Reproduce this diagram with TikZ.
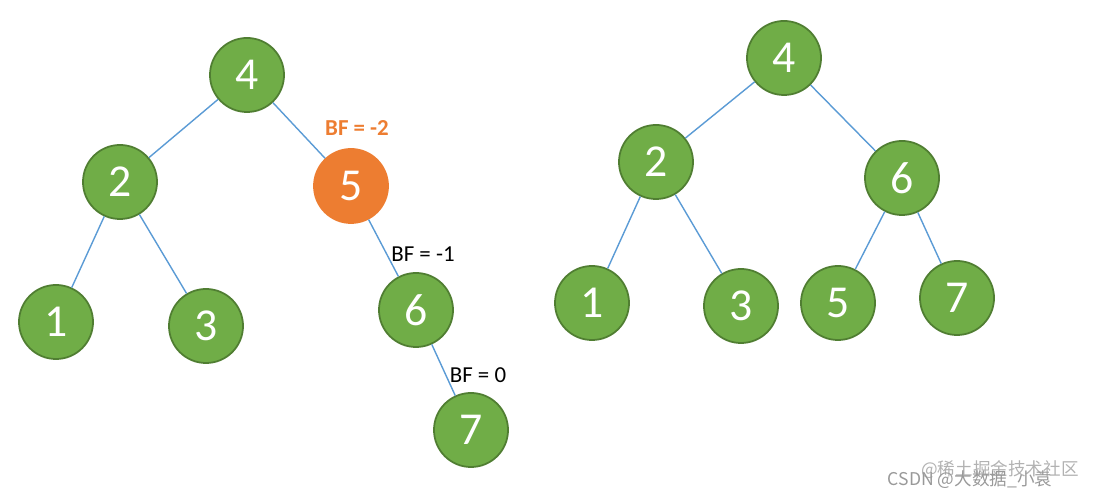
\documentclass[tikz,border=0pt]{standalone}
\usepackage{fontspec}
\setmainfont{Carlito}
\newfontfamily\cjk{Noto Sans CJK SC}
\definecolor{gfill}{HTML}{70AD47}
\definecolor{gdraw}{HTML}{507E32}
\definecolor{ofill}{HTML}{ED7D31}
\definecolor{edge}{HTML}{5B9BD5}
\begin{document}
\begin{tikzpicture}[x=0.01cm,y=-0.01cm,
  n/.style={circle,minimum size=0.74cm,inner sep=0pt,fill=gfill,draw=gdraw,line width=0.5pt,text=white,font=\fontsize{13}{13}\selectfont},
  o/.style={n,fill=ofill,draw=ofill},
  e/.style={draw=edge,line width=0.4pt},
  bf/.style={font=\fontsize{6.5}{7}\selectfont}]
\useasboundingbox (0,0) rectangle (1094,498);
\node[n] (a4) at (247,75) {4};
\node[n] (a2) at (120,182) {2};
\node[o] (a5) at (351,186) {5};
\node[n] (a1) at (56,322) {1};
\node[n] (a3) at (206,326) {3};
\node[n] (a6) at (416,310) {6};
\node[n] (a7) at (471,430) {7};
\draw[e] (a4)--(a2); \draw[e] (a4)--(a5); \draw[e] (a2)--(a1); \draw[e] (a2)--(a3);
\draw[e] (a5)--(a6); \draw[e] (a6)--(a7);
\node[bf,text=ofill,font=\fontsize{6.5}{7}\selectfont\bfseries] (l1) at (357,128) {BF = -2};
\node[bf] (l2) at (423,254) {BF = -1};
\node[bf] (l3) at (478,375) {BF = 0};
\node[n] (b4) at (784,58) {4};
\node[n] (b2) at (656,162) {2};
\node[n] (b6) at (902,178) {6};
\node[n] (b1) at (592,303) {1};
\node[n] (b3) at (741,306) {3};
\node[n] (b5) at (838,303) {5};
\node[n] (b7) at (957,298) {7};
\draw[e] (b4)--(b2); \draw[e] (b4)--(b6); \draw[e] (b2)--(b1); \draw[e] (b2)--(b3);
\draw[e] (b6)--(b5); \draw[e] (b6)--(b7);
\node[text=gray!60,font=\cjk\fontsize{5}{6}\selectfont] (w1) at (1000,470) {@稀土掘金技术社区};
\node[text=gray!80,font=\cjk\fontsize{5}{6}\selectfont] (w2) at (970,480) {CSDN @大数据\_小袁};
\end{tikzpicture}
\end{document}
